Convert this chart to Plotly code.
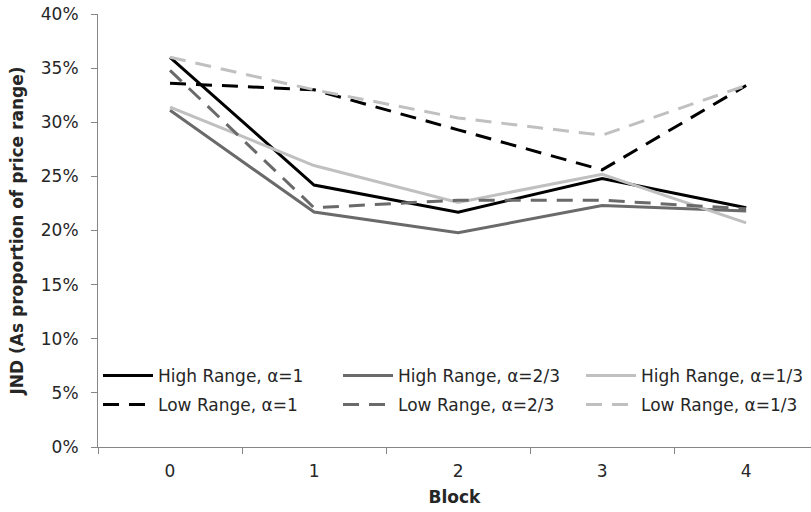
import plotly.graph_objects as go

blocks = ["0", "1", "2", "3", "4"]

high_a1 = [0.360, 0.242, 0.217, 0.248, 0.221]
high_a23 = [0.311, 0.217, 0.198, 0.223, 0.218]
high_a13 = [0.314, 0.260, 0.226, 0.252, 0.207]
low_a1 = [0.336, 0.330, 0.293, 0.256, 0.334]
low_a23 = [0.348, 0.221, 0.228, 0.228, 0.220]
low_a13 = [0.360, 0.330, 0.304, 0.288, 0.334]

names = ["High Range, α=1", "High Range, α=2/3", "High Range, α=1/3",
         "Low Range, α=1", "Low Range, α=2/3", "Low Range, α=1/3"]
series = [high_a1, high_a23, high_a13, low_a1, low_a23, low_a13]
colors = ["#000000", "#6a6a6a", "#c0c0c0", "#000000", "#6a6a6a", "#c0c0c0"]
dashes = ["solid", "solid", "solid", "16px,10px", "16px,10px", "16px,10px"]

FONT = "DejaVu Sans"
L, T, B, W, H = 98, 14, 65, 811, 512
PW = W - L
PH = H - T - B

# legend grid: column origins and row centres in pixels
col_px = [98, 338, 581]
row_px = [376, 405]

fig = go.Figure()
layout_legends = {}
for i, (name, vals, col, dash) in enumerate(zip(names, series, colors, dashes)):
    key = f"legend{i + 2}"
    fig.add_trace(go.Scatter(x=blocks, y=vals, mode="lines", name=name,
                             line=dict(color=col, width=3, dash=dash),
                             legend=key))
    r, c = divmod(i, 3)
    layout_legends[key] = dict(
        orientation="h",
        x=(col_px[c] - L) / PW, xanchor="left",
        y=(H - B - row_px[r]) / PH, yanchor="middle", itemwidth=50,
        bgcolor="rgba(0,0,0,0)", font=dict(family=FONT, size=17, color="#262626"),
        itemclick=False, itemdoubleclick=False)

fig.update_layout(
    width=W, height=H,
    margin=dict(l=L, r=0, t=T, b=B),
    paper_bgcolor="white", plot_bgcolor="white",
    font=dict(family=FONT, size=17, color="#262626"),
    **layout_legends,
    xaxis=dict(type="category", range=[-0.5, 4.45], tickson="boundaries",
               automargin=False,
               showline=True, linecolor="#868686", linewidth=1,
               ticks="outside", ticklen=6, tickcolor="#868686",
               showgrid=False, zeroline=False, ticklabelstandoff=9,
               title=dict(text="<b>Block</b>", font=dict(family=FONT, size=17, color="#262626"),
                          standoff=10)),
    yaxis=dict(range=[0, 0.40], dtick=0.05, tickformat=".0%",
               automargin=False,
               showline=True, linecolor="#868686", linewidth=1,
               ticks="outside", ticklen=6, tickcolor="#868686",
               showgrid=False, zeroline=False, ticklabelstandoff=9,
               title=dict(text="<b>JND (As proportion of price range)</b>",
                          font=dict(family=FONT, size=17, color="#262626"), standoff=12)),
)

fig.write_html("out.html", config={"displayModeBar": False},
               post_script="document.body.style.margin='0px';document.body.style.overflow='hidden';")
